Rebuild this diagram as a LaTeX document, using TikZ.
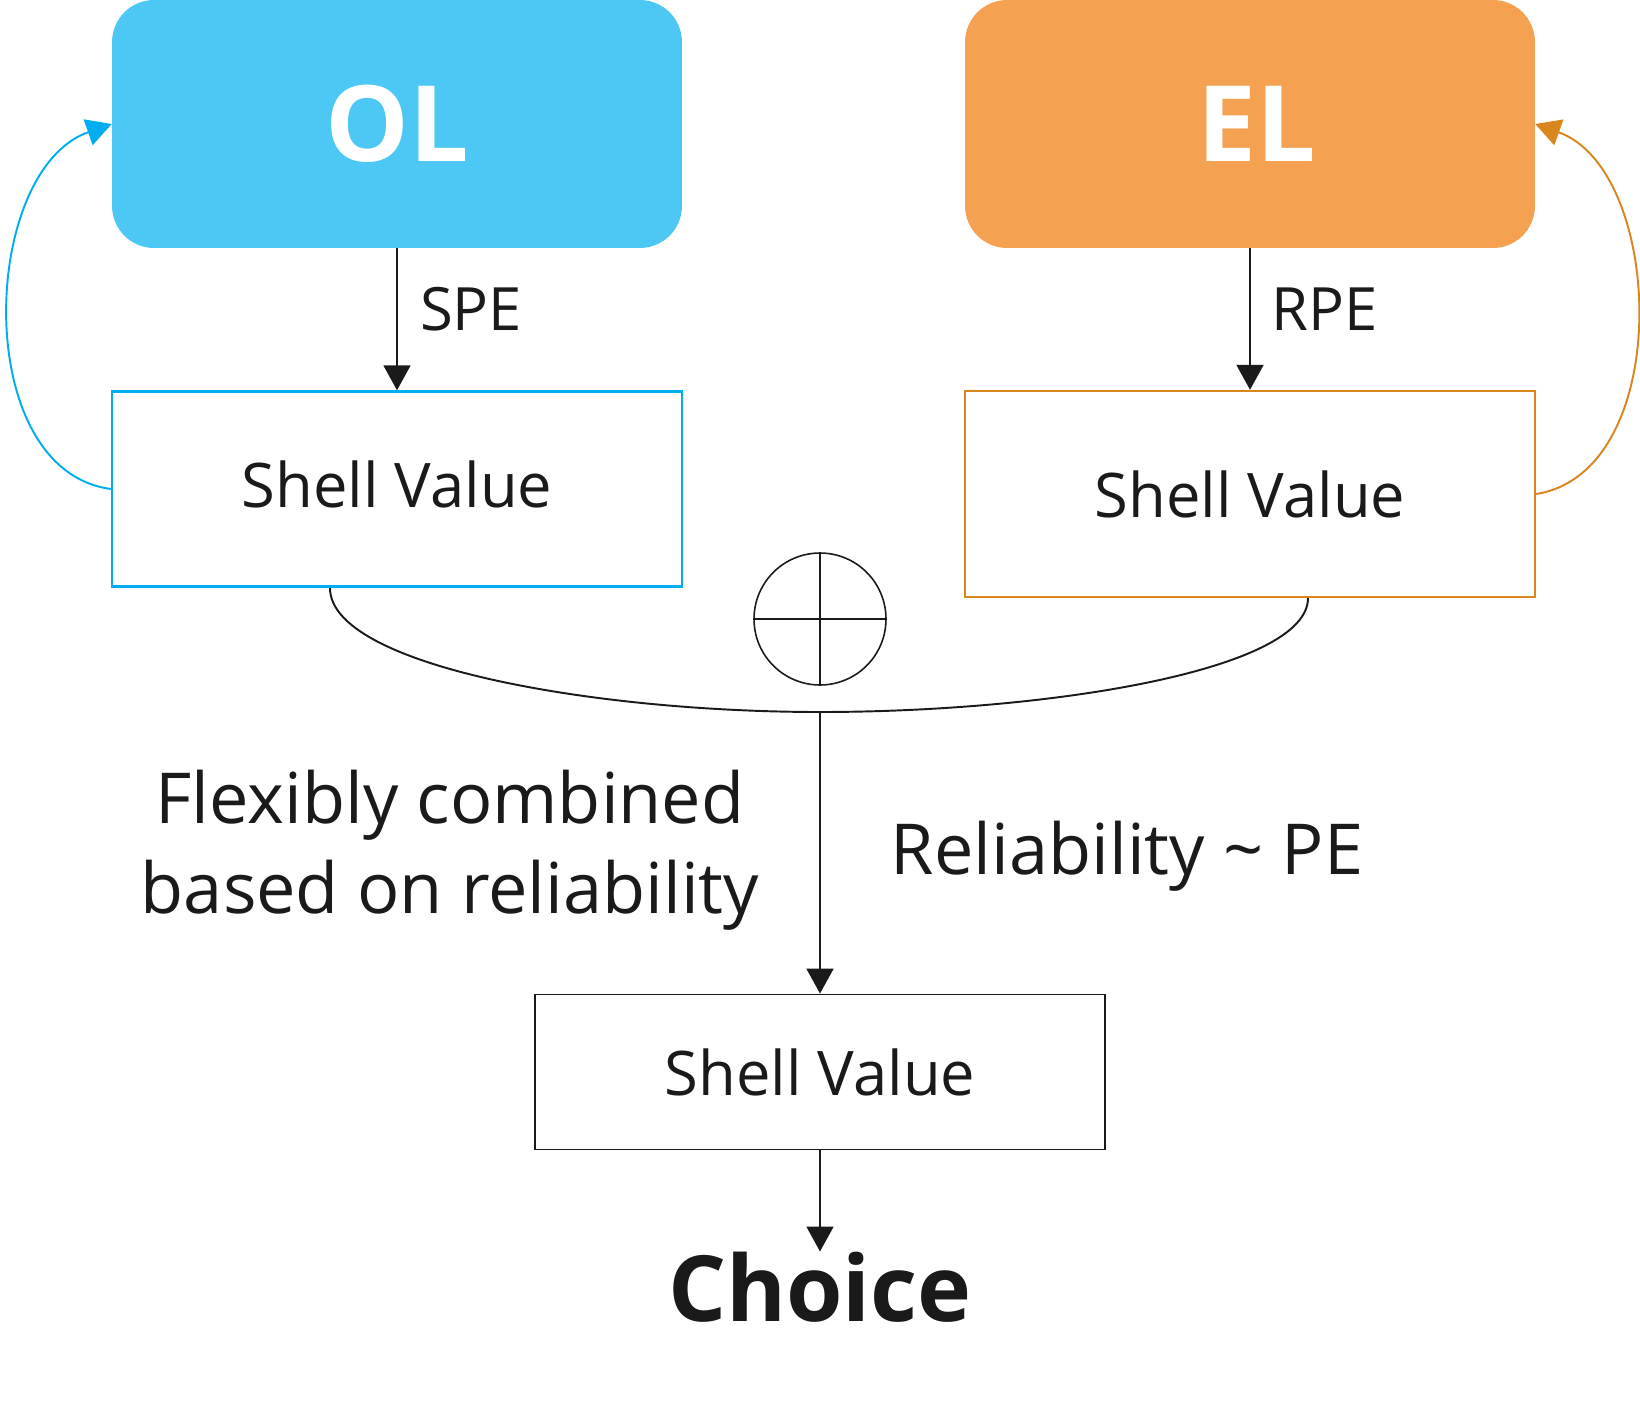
\documentclass[tikz,border=0pt]{standalone}
\usepackage{fontspec}
\setmainfont{Open Sans}
\usetikzlibrary{arrows.meta}
\definecolor{olblue}{HTML}{4DC8F4}
\definecolor{lineblue}{HTML}{00AEEF}
\definecolor{elorange}{HTML}{F4A151}
\definecolor{lineorange}{HTML}{D9861F}
\definecolor{ink}{HTML}{1A1A1A}

\begin{document}
\begin{tikzpicture}[x=0.02cm, y=-0.02cm, every node/.style={text=ink},
	head/.style={-{Triangle[length=0.5cm,width=0.54cm]}},
	learner/.style={rounded corners=0.84cm, minimum width=11.4cm, minimum height=4.96cm, font=\fontsize{60}{70}\selectfont\bfseries},
	valbox/.style={draw, line width=1.4pt, minimum width=11.4cm, font=\fontsize{35}{42}\selectfont},
	errlabel/.style={font=\fontsize{34}{40}\selectfont},
	note/.style={align=center, font=\fontsize{40}{51}\selectfont}]
	\useasboundingbox (0,0) rectangle (1640,1402);
	
	\node[learner, fill=olblue, text=white] (ol) at (397,124) {OL};
	\node[learner, fill=elorange, text=white] (el) at (1250,124) {\hspace{0.28cm}EL};
	
	\node[valbox, draw=lineblue, minimum height=3.9cm] (sv1) at (397,489) {\raisebox{0.18cm}{Shell Value}};
	\node[valbox, draw=lineorange, minimum height=4.12cm] (sv2) at (1250,494) {Shell Value};
	\node[valbox, draw=ink, line width=1.1pt, minimum height=3.1cm] (sv3) at (820,1072) {Shell Value};
	
	\draw[head, ink, line width=1.1pt] (ol) -- (sv1);
	\draw[head, ink, line width=1.1pt] (el) -- (sv2);
	\node[errlabel] (spe) at (471,309) {SPE};
	\node[errlabel] (rpe) at (1325,309) {RPE};
	
	\draw[head, lineblue, line width=1.1pt] (sv1.west) .. controls (-30,470) and (-20,170) .. (ol.west);
	\draw[head, lineorange, line width=1.1pt] (sv2.east) .. controls (1675,472) and (1665,170) .. (el.east);
	
	\node[circle, draw=ink, line width=0.9pt, minimum size=2.64cm] (sum) at (820,619) {};
	\draw[ink, line width=0.9pt] (sum.north) -- (sum.south) (sum.west) -- (sum.east);
	
	\coordinate (jl) at (330,588);
	\coordinate (jr) at (1308,598);
	\coordinate (join) at (820,712);
	\draw[ink, line width=1.1pt] (jl) .. controls (330,665) and (590,712) .. (join) .. controls (1050,712) and (1308,670) .. (jr);
	\draw[head, ink, line width=1.1pt] (join) -- (sv3);
	
	\node[note] (flex) at (450,850) {Flexibly combined\\based on reliability};
	\node[note] (rel) at (1127,856) {Reliability \textasciitilde{} PE};
	
	\node[inner sep=0pt, font=\fontsize{52}{60}\selectfont\bfseries] (choice) at (820,1287) {Choice};
	\draw[head, ink, line width=1.1pt] (sv3) -- (choice);
\end{tikzpicture}
\end{document}
